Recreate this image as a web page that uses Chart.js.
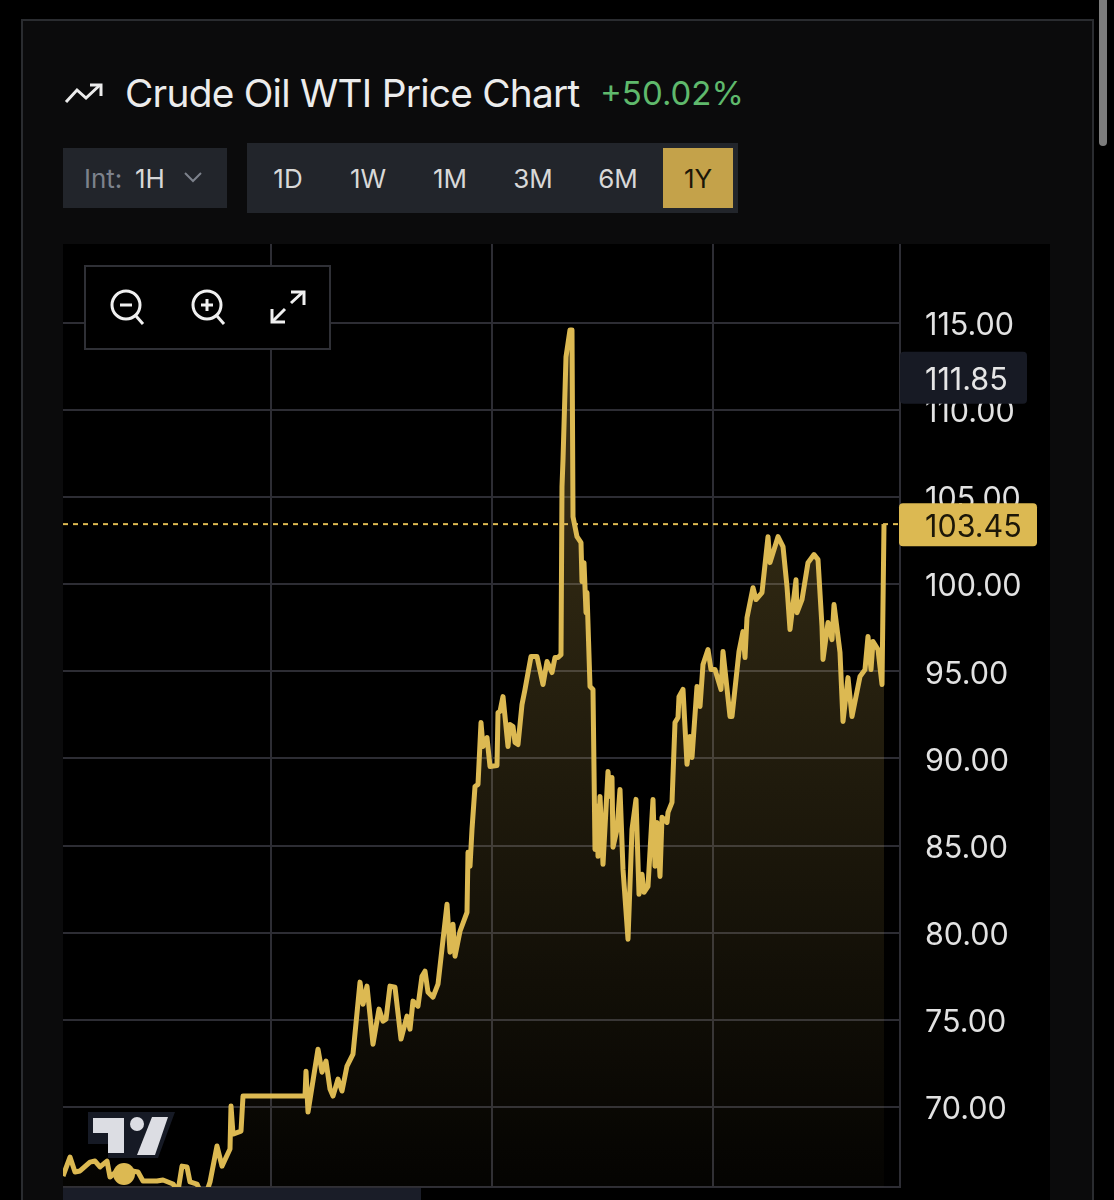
<!DOCTYPE html>
<html>
<head>
<meta charset="utf-8">
<title>Crude Oil WTI Price Chart</title>
<script src="https://cdn.jsdelivr.net/npm/chart.js@4"></script>
<style>
	html, body { margin: 0; height: 1200px; overflow: hidden; background: #000; font-family: Inter, sans-serif; }
	.abs { position: absolute; box-sizing: border-box; }
	#card { left: 21px; top: 19px; width: 1073px; height: 1300px; background: #0b0b0c; border: 2px solid #2a2c30; }
	#scrollbar { left: 1099px; top: -5px; width: 8px; height: 151px; background: #7c7c7c; border-radius: 4px; }
	#title { left: 125px; top: 69px; font-size: 38.8px; line-height: 48px; color: #ececec; letter-spacing: -0.75px; white-space: nowrap; }
	#change { left: 600px; top: 69px; font-size: 33px; line-height: 48px; color: #5fb96c; white-space: nowrap; }
	#interval { left: 63px; top: 148px; width: 164px; height: 60px; background: #22252b; font-size: 26px; line-height: 62px; color: #d8d8d8; }
	#interval .lbl { position: absolute; left: 21px; color: #7d828c; }
	#interval .val { position: absolute; left: 72px; }
	#tabs { left: 247px; top: 143px; width: 491px; height: 70px; background: #22252b; }
	#active { left: 663px; top: 148px; width: 70px; height: 60px; background: #c4a24a; }
	.tab { position: absolute; top: 148px; width: 70px; margin-left: -35px; text-align: center; font-size: 26px; line-height: 62px; color: #d8d8d8; }
	#plotBg { left: 63px; top: 244px; width: 987px; height: 956px; background: #000; }
	#chartBox { left: 63px; top: 244px; width: 987px; height: 944px; }
	#tools { left: 84px; top: 265px; width: 247px; height: 85px; background: #000; border: 2px solid #2f3036; }
	#footBar { left: 63px; top: 1188px; width: 358px; height: 12px; background: #1a1d28; }
</style>
</head>
<body>
<div class="abs" id="card"></div>
<div class="abs" id="scrollbar"></div>

<svg class="abs" style="left:62px;top:80px" width="44" height="28" fill="none" stroke="#ececec" stroke-width="3">
	<path d="M4 22 L15 10 L24 18 L38 5"/><path d="M28 5 H39 V16"/>
</svg>
<div class="abs" id="title">Crude Oil WTI Price Chart</div>
<div class="abs" id="change">+50.02%</div>

<div class="abs" id="interval"><span class="lbl">Int:</span><span class="val">1H</span></div>
<svg class="abs" style="left:183px;top:170px" width="20" height="14" fill="none" stroke="#7d828c" stroke-width="2">
	<path d="M2 3 L10 11 L18 3"/>
</svg>
<div class="abs" id="tabs"></div>
<div class="abs" id="active"></div>
<div id="tabLabels"></div>

<div class="abs" id="plotBg"></div>
<div class="abs" id="chartBox"><canvas id="chart"></canvas></div>
<div class="abs" id="footBar"></div>

<div class="abs" id="tools"></div>
<svg class="abs" style="left:105px;top:285px" width="210" height="44" fill="none" stroke="#f0f0f0" stroke-width="3">
	<circle cx="21" cy="20" r="14"/><path d="M31 31 L38 39"/><path d="M15 20 H27"/>
	<circle cx="102" cy="20" r="14"/><path d="M112 31 L119 39"/><path d="M96 20 H108 M102 14 V26"/>
	<path d="M168 36 L180 24 M186 18 L198 7"/><path d="M186 7 H199 V20"/><path d="M167 24 V37 H180"/>
</svg>

<svg class="abs" style="left:85px;top:1109px" width="94" height="54">
	<path d="M3 3 H90 L73 49 H23 V35 H3 Z" fill="#161a25"/>
	<path d="M8 9 H39 V44 H23 V24 H8 Z" fill="#dcdde3"/>
	<circle cx="52" cy="15" r="7" fill="#dcdde3"/>
	<path d="M67 8 H83 L70 46 H52 Z" fill="#dcdde3"/>
</svg>

<script>
// x axis runs 0-837 across the plot
const times = [
	0, 7, 12, 17, 27, 32, 37, 44, 47, 54, 61, 69, 75, 80, 94, 100, 110, 115, 119, 124,
	127, 134, 137, 144, 147, 154, 159, 167, 168, 170, 178, 180, 242, 243, 245, 255, 259, 263, 267, 270,
	275, 279, 284, 290, 297, 300, 304, 310, 316, 320, 323, 327, 332, 338, 344, 347, 350, 355, 359, 362,
	365, 370, 375, 384, 387, 390, 392, 397, 404, 405, 407, 409, 412, 415, 418, 420, 424, 427, 434, 435,
	437, 440, 445, 447, 450, 452, 455, 459, 462, 468, 474, 480, 484, 489, 492, 495, 498, 499, 500, 503,
	507, 509, 510, 514, 518, 519, 521, 523, 524, 527, 530, 532, 534, 535, 537, 540, 545, 547, 549, 550,
	554, 557, 560, 565, 569, 573, 576, 579, 581, 585, 590, 592, 594, 597, 599, 604, 605, 609, 612, 615,
	616, 620, 624, 627, 629, 634, 637, 640, 645, 648, 652, 658, 660, 667, 669, 676, 680, 682, 684, 690,
	693, 699, 705, 707, 715, 720, 724, 727, 733, 734, 739, 745, 751, 755, 759, 760, 765, 769, 771, 777,
	780, 785, 789, 797, 802, 805, 808, 810, 815, 819, 821
];
const prices = [
	66.03, 67.12, 66.26, 66.32, 66.83, 66.89, 66.55, 66.89, 65.97, 66.32, 66.15, 66.32, 66.26, 65.74, 65.74, 65.80, 65.57, 65.17, 66.60, 66.55,
	65.69, 65.57, 65.17, 65.17, 65.69, 67.75, 66.60, 67.58, 70.05, 68.44, 68.61, 70.62, 70.62, 72.05, 69.70, 73.31, 71.99, 72.63, 71.02, 70.62,
	71.59, 70.91, 72.34, 73.03, 77.16, 75.89, 76.93, 73.60, 75.61, 74.92, 75.03, 76.93, 76.87, 73.89, 75.21, 74.46, 76.07, 75.78, 77.50, 77.79,
	76.58, 76.30, 77.04, 81.63, 78.88, 80.48, 78.65, 80.08, 81.17, 84.61, 83.81, 85.93, 88.39, 88.51, 92.06, 90.69, 91.20, 89.54, 89.60, 92.64,
	92.69, 93.55, 90.69, 91.95, 91.83, 90.92, 90.80, 93.10, 93.96, 95.85, 95.85, 94.24, 95.56, 94.93, 95.79, 95.79, 95.96, 105.60, 107.14, 113.05,
	114.60, 114.60, 103.88, 102.73, 102.39, 100.15, 101.24, 98.37, 99.52, 94.13, 93.96, 84.78, 87.25, 84.38, 87.82, 83.92, 89.25, 87.82, 88.91, 84.90,
	85.93, 88.22, 83.63, 79.62, 85.93, 87.65, 82.20, 83.35, 82.32, 82.66, 87.65, 83.81, 86.33, 83.23, 86.62, 86.33, 86.90, 87.48, 92.06, 92.35,
	93.55, 93.96, 89.66, 91.26, 90.06, 94.13, 92.98, 95.39, 96.25, 95.10, 95.10, 93.96, 96.14, 92.41, 92.41, 96.14, 97.28, 95.79, 98.08, 99.80,
	99.12, 99.52, 102.73, 101.24, 102.73, 102.16, 99.86, 97.40, 100.26, 98.37, 99.12, 101.24, 101.70, 101.41, 97.57, 95.68, 97.80, 96.82, 98.83, 96.08,
	92.12, 94.64, 92.41, 94.70, 95.10, 97.00, 95.10, 96.71, 96.25, 94.24, 103.45
];

const priceTicks = [70, 75, 80, 85, 90, 95, 100, 105, 110, 115];
const timeTicks = [208, 429, 650];
const tabNames = ['1D', '1W', '1M', '3M', '6M', '1Y'];
const tabCenters = [288, 368, 450, 533, 618, 698];

const lastPrice = 103.45;
const hoverPrice = 111.85;
const markerTime = [61];
const markerPrice = [66.15];

const GOLD = '#dcb952';
const GRID = '#2d2d34';

for (let i = 0; i < tabNames.length; i++) {
	let tab = document.createElement('div');
	tab.className = 'tab';
	tab.style.left = tabCenters[i] + 'px';
	tab.textContent = tabNames[i];
	if (tabNames[i] == '1Y') tab.style.color = '#1c1708';
	document.getElementById('tabLabels').appendChild(tab);
}

function toPoints(xs, ys) {
	return xs.map((x, i) => ({ x: x, y: ys[i] }));
}

function areaGradient(context) {
	const area = context.chart.chartArea;
	if (!area) return 'transparent';
	let g = context.chart.ctx.createLinearGradient(0, area.top, 0, area.bottom);
	g.addColorStop(0, 'rgba(223,187,86,0.30)');
	g.addColorStop(1, 'rgba(223,187,86,0.02)');
	return g;
}

function noAxisPadding(axis) {
	axis.paddingTop = 0;
	axis.paddingBottom = 0;
	axis.paddingLeft = 0;
	axis.paddingRight = 0;
}

// price badges sit on the axis, over the tick labels
const badges = {
	id: 'badges',
	afterDraw(chart) {
		const ctx = chart.ctx;
		const y = chart.scales.y;
		const x0 = chart.chartArea.right;
		ctx.save();
		ctx.font = '30.5px Inter';
		ctx.textBaseline = 'middle';
		ctx.textAlign = 'left';

		let yHover = y.getPixelForValue(hoverPrice);
		ctx.fillStyle = '#171a24';
		ctx.beginPath();
		ctx.roundRect(x0, yHover - 26, 127, 52, 4);
		ctx.fill();
		ctx.fillStyle = '#e6e6e6';
		ctx.fillText(hoverPrice.toFixed(2), x0 + 25, yHover + 3);

		let yLast = y.getPixelForValue(lastPrice);
		ctx.fillStyle = GOLD;
		ctx.beginPath();
		ctx.roundRect(x0 - 1, yLast - 21, 138, 43, 4);
		ctx.fill();
		ctx.fillStyle = '#1c1708';
		ctx.fillText(lastPrice.toFixed(2), x0 + 25, yLast + 4);
		ctx.restore();
	}
};

new Chart(document.getElementById('chart'), {
	type: 'line',
	data: {
		datasets: [
			{
				data: toPoints(markerTime, markerPrice),
				pointRadius: 11,
				pointBackgroundColor: GOLD,
				pointBorderWidth: 0,
				showLine: false,
				order: 0,
			},
			{
				data: toPoints(times, prices),
				borderColor: GOLD,
				borderWidth: 5,
				borderJoinStyle: 'round',
				pointRadius: 0,
				tension: 0,
				fill: 'start',
				backgroundColor: areaGradient,
				order: 1,
			},
			{
				data: toPoints([0, 837], [lastPrice, lastPrice]),
				borderColor: GOLD,
				borderWidth: 2,
				borderDash: [5, 5],
				pointRadius: 0,
				order: 2,
			},
		],
	},
	options: {
		responsive: true,
		maintainAspectRatio: false,
		animation: false,
		layout: { padding: 0, autoPadding: false },
		plugins: { legend: { display: false }, tooltip: { enabled: false } },
		scales: {
			x: {
				type: 'linear',
				min: 0,
				max: 837,
				afterBuildTicks: (axis) => { axis.ticks = timeTicks.map(v => ({ value: v })); },
				afterFit: (axis) => { axis.height = 1; noAxisPadding(axis); },
				grid: { color: GRID, lineWidth: 2, drawTicks: false },
				border: { color: GRID, width: 2 },
				ticks: { display: false },
			},
			y: {
				position: 'right',
				min: 65.4,
				max: 119.53,
				afterBuildTicks: (axis) => { axis.ticks = priceTicks.map(v => ({ value: v })); },
				afterFit: (axis) => { axis.width = 150; noAxisPadding(axis); },
				grid: { color: GRID, lineWidth: 2, drawTicks: false },
				border: { color: GRID, width: 2 },
				ticks: {
					color: '#e2e2e2',
					padding: 25,
					labelOffset: 3,
					font: { family: 'Inter', size: 30.5 },
					callback: (v) => Number(v).toFixed(2),
				},
			},
		},
	},
	plugins: [badges],
});
</script>
</body>
</html>
